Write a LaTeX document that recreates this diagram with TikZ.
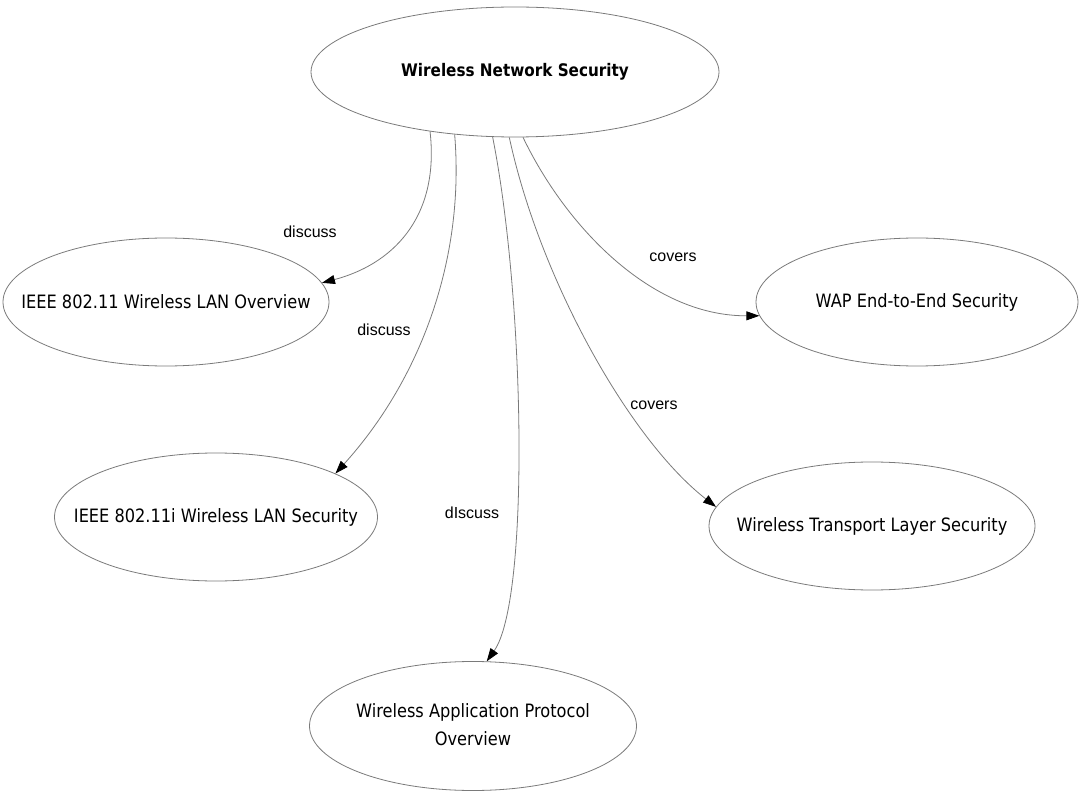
\documentclass[tikz,border=0pt]{standalone}
\usepackage{fontspec}
\setmainfont{DejaVu Sans}
\newfontfamily\topicfont[FakeStretch=0.88]{DejaVu Sans}
\newfontfamily\relfont{Liberation Sans}
\usetikzlibrary{shapes.geometric,arrows.meta}
\definecolor{linegray}{HTML}{7A7A7A}
% text that does not widen its ellipse
\newcommand{\zerowidth}[1]{\makebox[0pt][c]{#1}}
\begin{document}
\begin{tikzpicture}[x=1pt,y=-1pt,
  topic/.style={ellipse, draw=linegray, line width=0.8pt, inner sep=0pt,
    minimum width=326pt, minimum height=128pt, text=black,
    font=\topicfont\fontsize{18.4}{28}\selectfont},
  rel/.style={draw=linegray, line width=0.8pt,
    -{Triangle[length=13pt,width=9pt,black]}},
  rellabel/.style={font=\relfont\fontsize{16}{19}\selectfont, text=black, inner sep=0pt}]
\useasboundingbox (0,0) rectangle (1082,794);

% topics
\node[topic, minimum width=408pt, minimum height=130pt,
      font=\topicfont\bfseries\fontsize{17.3}{21}\selectfont]
      (wns) at (515,72) {\zerowidth{Wireless Network Security}};
\node[topic] (ov)   at (166,302) {\zerowidth{IEEE 802.11 Wireless LAN Overview}};
\node[topic, minimum width=322pt] (e2e)  at (917,302) {\zerowidth{WAP End-to-End Security}};
\node[topic, minimum width=323pt] (sec)  at (216,517) {\zerowidth{IEEE 802.11i Wireless LAN Security}};
\node[topic] (wtls) at (872,526) {\zerowidth{Wireless Transport Layer Security}};
\node[topic, minimum width=327pt, minimum height=129pt] (wap) at (473,726)
      {\zerowidth{\begin{tabular}{@{}c@{}}Wireless Application Protocol\\Overview\end{tabular}}};

% relations
\draw[rel] (wns.215) .. controls (440,220) and (390,265) .. (ov.7);
\draw[rel] (wns.226) .. controls (465,260) and (420,380) .. (sec.20);
\draw[rel] (wns.251) .. controls (525,300) and (530,600) .. (wap.78);
\draw[rel] (wns.265) .. controls (540,280) and (630,440) .. (wtls.173);
\draw[rel] (wns.277) .. controls (565,225) and (650,316) .. (e2e.185);

% relation labels
\node[rellabel] (l1) at (310,232) {discuss};
\node[rellabel] (l2) at (384,330) {discuss};
\node[rellabel] (l3) at (472,513) {dIscuss};
\node[rellabel] (l4) at (673,257) {covers};
\node[rellabel] (l5) at (654,405) {covers};
\end{tikzpicture}
\end{document}
